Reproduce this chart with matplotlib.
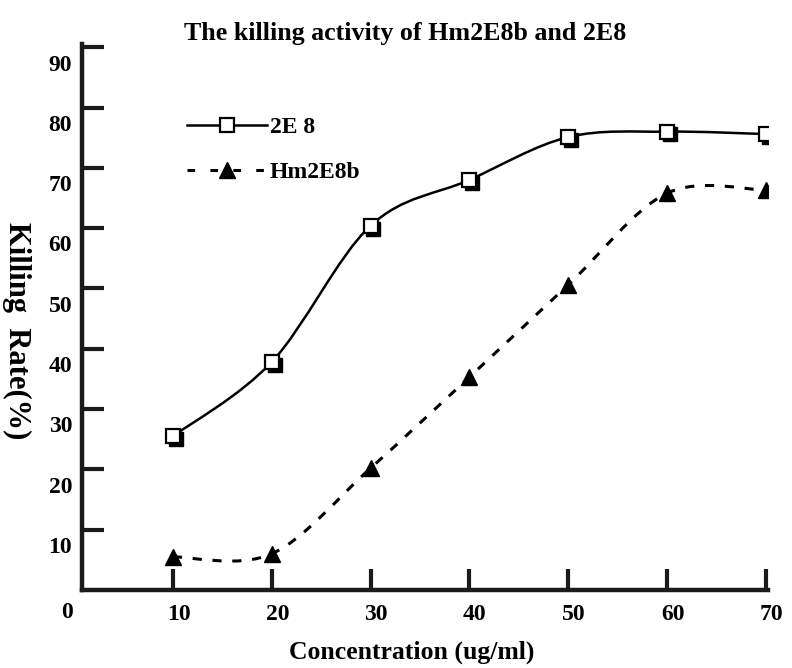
import matplotlib
matplotlib.use("Agg")
import matplotlib.pyplot as plt
import matplotlib.transforms as mtransforms
from matplotlib.path import Path
from matplotlib.patches import PathPatch
import numpy as np

plt.rcParams['font.family'] = ['Liberation Serif', 'DejaVu Serif']
plt.rcParams['font.weight'] = 'bold'

# Daten
concentration = [10, 20, 30, 40, 50, 60, 70]
rate_2e8 = [25.5, 37.8, 60.4, 68.0, 75.1, 76.0, 75.6]
rate_hm2e8b = [5.5, 6.0, 20.2, 35.3, 50.6, 65.8, 66.3]
y_ticks = [10, 20, 30, 40, 50, 60, 70, 80, 90]
x_ticks = [10, 20, 30, 40, 50, 60, 70]


def smooth_path(xs, ys):
    """Catmull-Rom Kurve als Bezier-Pfad durch die Messpunkte."""
    pts = np.column_stack([xs, ys]).astype(float)
    n = len(pts)
    verts = [pts[0]]
    codes = [Path.MOVETO]
    for i in range(n - 1):
        p0 = pts[i - 1] if i > 0 else pts[i]
        p1 = pts[i]
        p2 = pts[i + 1]
        p3 = pts[i + 2] if i + 2 < n else pts[i + 1]
        c1 = p1 + (p2 - p0) / 6
        c2 = p2 - (p3 - p1) / 6
        verts += [c1, c2, p2]
        codes += [Path.CURVE4] * 3
    return Path(verts, codes)


fig = plt.figure(figsize=(7.92, 6.68), dpi=100)
ax = fig.add_axes([0.1035, 0.1168, 0.866, 0.817])

# Kurven
ax.add_patch(PathPatch(smooth_path(concentration, rate_2e8), facecolor='none',
                       edgecolor='black', lw=1.8, zorder=2))
ax.add_patch(PathPatch(smooth_path(concentration, rate_hm2e8b), facecolor='none',
                       edgecolor='black', lw=2.2, linestyle=(0, (3, 3.5)), zorder=2))

# Schatten der Quadrate
shadow = ax.transData + mtransforms.ScaledTranslation(2 / 72, -2 / 72, fig.dpi_scale_trans)
ax.plot(concentration, rate_2e8, 's', color='black', markersize=10.5, transform=shadow, zorder=3)
ax.plot(concentration, rate_2e8, 's', markerfacecolor='white', markeredgecolor='black',
        markeredgewidth=1.6, markersize=10.5, zorder=4)
ax.plot(concentration, rate_hm2e8b, '^', color='black', markersize=11, zorder=4)

# Legende
h1, = ax.plot([], [], '-s', color='black', lw=1.8, markerfacecolor='white',
              markeredgecolor='black', markeredgewidth=1.6, markersize=10.5)
h2, = ax.plot([], [], '^', color='black', lw=2.2, ls=(0, (2.5, 5)), markersize=11)
leg = ax.legend([h1, h2], ['2E 8', 'Hm2E8b'], loc='upper left', bbox_to_anchor=(0.153, 0.868),
                frameon=False, fontsize=17, handlelength=3.4, handletextpad=0.1,
                labelspacing=1.0, borderaxespad=0, borderpad=0)

ax.set_xlim(0.8, 70.2)
ax.set_ylim(0, 90.5)
ax.set_xticks(x_ticks)
ax.set_yticks(y_ticks)
ax.set_xticklabels([str(v) for v in x_ticks], fontsize=17, fontweight='bold')
ax.set_yticklabels([str(v) for v in y_ticks], fontsize=17, fontweight='bold')

for side in ['top', 'right']:
    ax.spines[side].set_visible(False)
for side in ['left', 'bottom']:
    ax.spines[side].set_linewidth(3.2)
    ax.spines[side].set_color('#1a1a1a')

ax.tick_params(axis='y', direction='in', length=16, width=3.0, pad=7, color='#1a1a1a')
ax.tick_params(axis='x', direction='in', length=15, width=3.0, pad=10, color='#1a1a1a')

# Beschriftungen leicht nach unten versetzt wie im Original
off_y = mtransforms.ScaledTranslation(0, -11 / 72, fig.dpi_scale_trans)
for lbl in ax.get_yticklabels():
    lbl.set_transform(lbl.get_transform() + off_y)
off_x = mtransforms.ScaledTranslation(4 / 72, 0, fig.dpi_scale_trans)
for lbl in ax.get_xticklabels():
    lbl.set_transform(lbl.get_transform() + off_x)

fig.text(67 / 792, 1 - 613 / 668, '0', fontsize=17, fontweight='bold', ha='center', va='center')

fig.text(412 / 792, 1 - 652 / 668, 'Concentration (ug/ml)', fontsize=18.5, fontweight='bold',
         ha='center', va='center')
fig.text(17 / 792, 1 - 331 / 668, 'Killing  Rate(%)', fontsize=22, fontweight='bold',
         rotation=270, ha='center', va='center')
fig.text(405 / 792, 1 - 40 / 668, 'The killing activity of Hm2E8b and 2E8', fontsize=18.7,
         fontweight='bold', ha='center', va='baseline')

fig.savefig('out.png', dpi=100)
